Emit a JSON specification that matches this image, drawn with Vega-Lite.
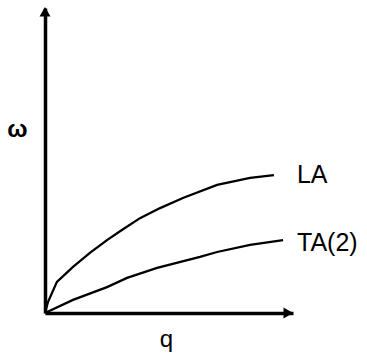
{
  "$schema": "https://vega.github.io/schema/vega-lite/v6.json",
  "width": 248,
  "height": 305,
  "autosize": {"type": "none"},
  "padding": {"left": 45, "top": 8, "right": 74, "bottom": 43},
  "background": "white",
  "config": {"view": {"stroke": null}, "font": "Liberation Sans"},
  "datasets": {
    "curves": [
      {"series": "LA", "q": 0, "w": 0},
      {"series": "LA", "q": 1.2, "w": 3.6},
      {"series": "LA", "q": 4.8, "w": 10.2},
      {"series": "LA", "q": 11.3, "w": 15.1},
      {"series": "LA", "q": 18.1, "w": 19.7},
      {"series": "LA", "q": 25.0, "w": 23.9},
      {"series": "LA", "q": 31.0, "w": 27.2},
      {"series": "LA", "q": 38.3, "w": 31.1},
      {"series": "LA", "q": 46.4, "w": 34.4},
      {"series": "LA", "q": 55.6, "w": 37.7},
      {"series": "LA", "q": 69.4, "w": 42.0},
      {"series": "LA", "q": 82.7, "w": 44.3},
      {"series": "LA", "q": 92.3, "w": 45.2},
      {"series": "TA(2)", "q": 0, "w": 0},
      {"series": "TA(2)", "q": 11.3, "w": 4.3},
      {"series": "TA(2)", "q": 25.0, "w": 8.5},
      {"series": "TA(2)", "q": 33.1, "w": 11.5},
      {"series": "TA(2)", "q": 45.2, "w": 14.8},
      {"series": "TA(2)", "q": 62.5, "w": 18.4},
      {"series": "TA(2)", "q": 69.4, "w": 20.0},
      {"series": "TA(2)", "q": 82.7, "w": 22.3},
      {"series": "TA(2)", "q": 96.0, "w": 23.9}
    ],
    "arrows": [
      {"q": 98.1, "w": 0, "shape": "triangle-right"},
      {"q": 0, "w": 98.75, "shape": "triangle-up"}
    ],
    "labels": [
      {"label": "LA", "q": 101.6, "w": 45.4},
      {"label": "TA(2)", "q": 101.6, "w": 22.8}
    ]
  },
  "encoding": {
    "x": {
      "field": "q", "type": "quantitative",
      "scale": {"domain": [0, 100], "nice": false, "zero": false},
      "axis": {
        "title": "q", "domain": true, "domainColor": "black", "domainWidth": 3.5,
        "ticks": false, "labels": false, "grid": false,
        "titleFontSize": 24, "titleFontWeight": "normal", "titleColor": "black",
        "titleX": 121, "titleY": 33, "titleAlign": "center", "titleBaseline": "alphabetic"
      }
    },
    "y": {
      "field": "w", "type": "quantitative",
      "scale": {"domain": [0, 100], "nice": false, "zero": false},
      "axis": {
        "title": "ω", "titleAngle": 0, "domain": true, "domainColor": "black", "domainWidth": 3.5,
        "ticks": false, "labels": false, "grid": false,
        "titleFontSize": 24, "titleFontWeight": "bold", "titleColor": "black",
        "titleX": -28, "titleY": 121, "titleAlign": "center", "titleBaseline": "middle"
      }
    }
  },
  "layer": [
    {
      "data": {"name": "curves"},
      "mark": {"type": "line", "color": "black", "strokeWidth": 2.3},
      "encoding": {"detail": {"field": "series", "type": "nominal"}}
    },
    {
      "data": {"name": "arrows"},
      "mark": {"type": "point", "filled": true, "color": "black", "size": 121, "opacity": 1},
      "encoding": {"shape": {"field": "shape", "type": "nominal", "scale": null}}
    },
    {
      "data": {"name": "labels"},
      "mark": {"type": "text", "align": "left", "baseline": "middle", "fontSize": 25, "color": "black", "font": "Liberation Sans"},
      "encoding": {"text": {"field": "label", "type": "nominal"}}
    }
  ]
}
